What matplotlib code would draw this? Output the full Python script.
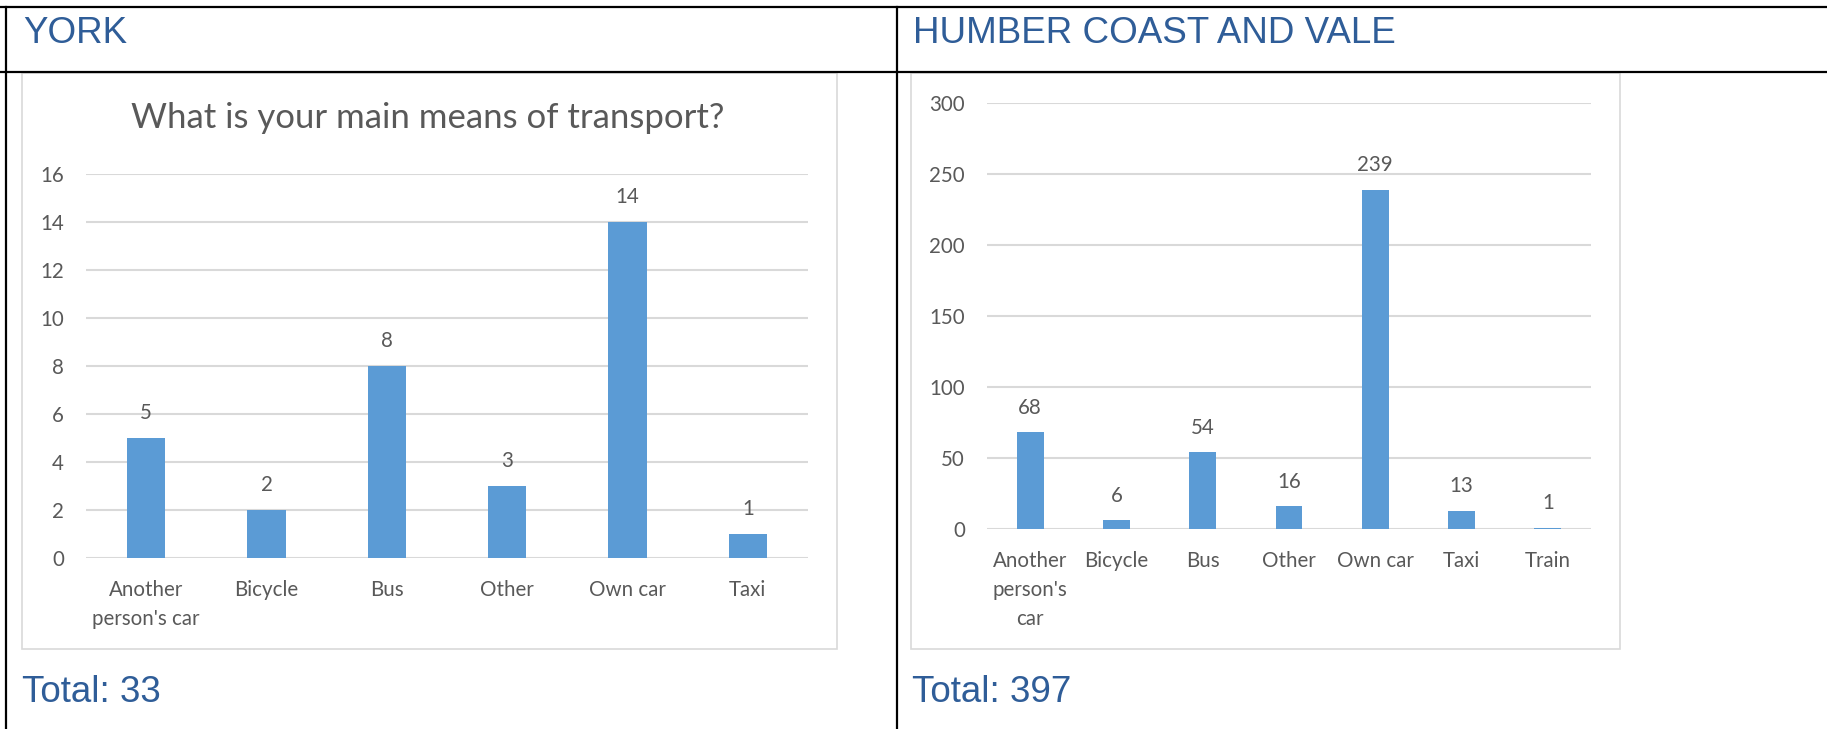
import matplotlib
matplotlib.use("Agg")
import matplotlib.pyplot as plt
from matplotlib.patches import Rectangle
from matplotlib.lines import Line2D

# York responses
york_labels = ["Another\nperson's car", "Bicycle", "Bus", "Other", "Own car", "Taxi"]
york_counts = [5, 2, 8, 3, 14, 1]
york_ticks = [0, 2, 4, 6, 8, 10, 12, 14, 16]

# Humber Coast and Vale responses
humber_labels = ["Another\nperson's\ncar", "Bicycle", "Bus", "Other", "Own car", "Taxi", "Train"]
humber_counts = [68, 6, 54, 16, 239, 13, 1]
humber_ticks = [0, 50, 100, 150, 200, 250, 300]

W, H = 1827, 729
BAR = "#5B9BD5"
GRID = "#D9D9D9"
TXT = "#595959"
HEAD = "#2F5D98"
CHART_FONT = "Lato"
HEAD_FONT = "Liberation Sans"
FS = 14.8

fig = plt.figure(figsize=(W / 100, H / 100), dpi=100)


def px_axes(x0, y0, x1, y1, **kw):
    # axes placed by pixel box (top-left origin)
    return fig.add_axes([x0 / W, 1 - y1 / H, (x1 - x0) / W, (y1 - y0) / H], **kw)


def line(xs, ys, **kw):
    fig.add_artist(Line2D([x / W for x in xs], [1 - y / H for y in ys], **kw))


def box(x0, y0, x1, y1):
    fig.add_artist(Rectangle((x0 / W, 1 - y1 / H), (x1 - x0) / W, (y1 - y0) / H,
                             fill=False, edgecolor=GRID, linewidth=1.2))


def bar_chart(ax, labels, counts, ticks, width):
    x = range(len(counts))
    ax.bar(x, counts, width=width, color=BAR, zorder=3)
    ax.set_xlim(-0.5, len(counts) - 0.5)
    ax.set_ylim(ticks[0], ticks[-1])
    ax.set_yticks(ticks)
    ax.set_xticks(list(x))
    ax.set_xticklabels(labels, linespacing=1.55)
    ax.grid(axis="y", color=GRID, linewidth=1.5, zorder=0)
    ax.set_axisbelow(True)
    for s in ax.spines.values():
        s.set_visible(False)
    ax.tick_params(axis="both", length=0, colors=TXT, labelsize=FS)
    ax.tick_params(axis="y", pad=16)
    ax.tick_params(axis="x", pad=16)
    for lbl in ax.get_xticklabels() + ax.get_yticklabels():
        lbl.set_fontfamily(CHART_FONT)
    for xi, v in zip(x, counts):
        ax.annotate(str(v), (xi, v), xytext=(0, 13.5), textcoords="offset points",
                    ha="center", va="baseline", fontsize=FS, color=TXT,
                    family=CHART_FONT)


# table rules
line([0, W], [7, 7], color="black", linewidth=1.6)
line([0, W], [72, 72], color="black", linewidth=1.6)
line([6, 6], [7, H], color="black", linewidth=1.6)
line([897, 897], [7, H], color="black", linewidth=1.6)

# chart frames
box(22, 73, 837, 649)
box(911, 73, 1620, 649)

# headings and totals
fig.text(23 / W, 1 - 43 / H, "YORK", fontsize=26.5, color=HEAD,
         family=HEAD_FONT, va="baseline")
fig.text(913 / W, 1 - 43 / H, "HUMBER COAST AND VALE", fontsize=26.5, color=HEAD,
         family=HEAD_FONT, va="baseline")
fig.text(22 / W, 1 - 702 / H, "Total: 33", fontsize=26.5, color=HEAD,
         family=HEAD_FONT, va="baseline")
fig.text(912 / W, 1 - 702 / H, "Total: 397", fontsize=26.5, color=HEAD,
         family=HEAD_FONT, va="baseline")

# York chart
ax1 = px_axes(86, 174, 808, 558)
bar_chart(ax1, york_labels, york_counts, york_ticks, 0.32)
fig.text(428 / W, 1 - 128 / H, "What is your main means of transport?",
         fontsize=25, color=TXT, family=CHART_FONT, ha="center", va="baseline")

# Humber chart
ax2 = px_axes(987, 103, 1591, 529)
bar_chart(ax2, humber_labels, humber_counts, humber_ticks, 0.31)

fig.savefig("out.png", dpi=100, facecolor="white")
